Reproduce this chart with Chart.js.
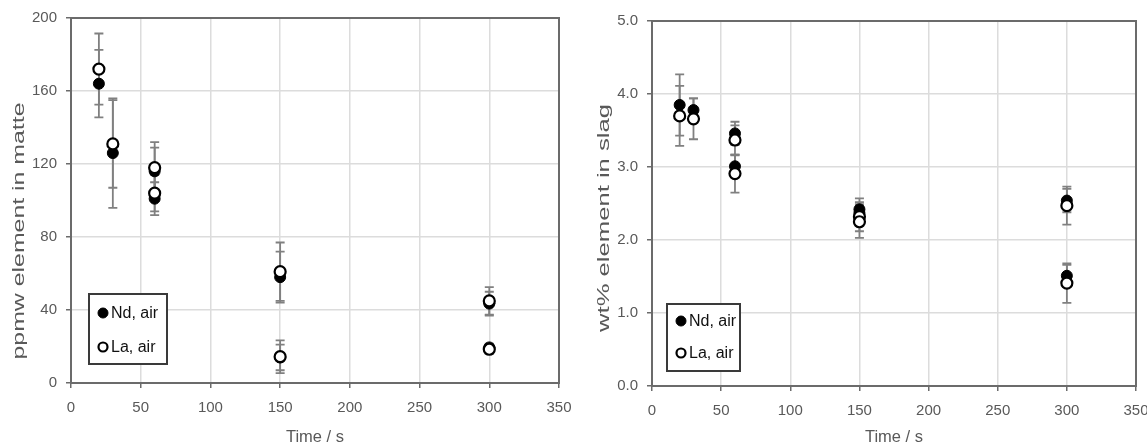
<!DOCTYPE html>
<html><head><meta charset="utf-8">
<script src="https://cdn.jsdelivr.net/npm/chart.js@4.4.1/dist/chart.umd.min.js"></script>
<style>
html,body{margin:0;padding:0;background:#fff;overflow:hidden;}
#wrap{position:relative;width:1147px;height:447px;overflow:hidden;}
canvas{position:absolute;top:0;}
#a{left:0;}
#b{left:573px;}
</style></head><body>
<div id="wrap"><canvas id="a" width="600" height="447"></canvas><canvas id="b" width="600" height="447"></canvas></div>
<script>
// ---- data ----
const seriesNames = ['Nd, air', 'La, air'];

const matteTime  = [20, 30, 60, 60, 150, 150, 300, 300];
const matteNd    = [164, 126, 116, 101, 58, 14, 43.5, 19.5];
const matteNdErr = [18.5, 30, 13, 9, 14, 7, 6.5, 2];
const matteLa    = [172, 131, 118, 104, 61, 14.4, 45, 18.5];
const matteLaErr = [19.5, 24, 14, 10, 16, 9, 7.5, 2.5];

const slagTime   = [20, 30, 60, 60, 150, 150, 300, 300];
const slagNd     = [3.85, 3.78, 3.46, 3.01, 2.42, 2.37, 2.54, 1.51];
const slagNdErr  = [0.42, 0.16, 0.16, 0.15, 0.15, 0.12, 0.16, 0.15];
const slagLa     = [3.70, 3.66, 3.37, 2.91, 2.32, 2.25, 2.47, 1.41];
const slagLaErr  = [0.41, 0.28, 0.20, 0.26, 0.20, 0.22, 0.26, 0.27];

const xTitle = 'Time / s';
const matteTitle = 'ppmw element in matte';
const slagTitle = 'wt% element in slag';

// ---- styling ----
const FONT = '"Liberation Sans", Arial, sans-serif';
const GREY = '#595959';
const AXIS = '#6b6b6b';

const errorBars = {
  id: 'errorBars',
  beforeDatasetsDraw(chart) {
    const ctx = chart.ctx, xs = chart.scales.x, ys = chart.scales.y;
    ctx.save();
    ctx.strokeStyle = '#808080';
    ctx.lineWidth = 1.8;
    chart.data.datasets.forEach(ds => {
      ds.data.forEach((p, i) => {
        const e = ds.err[i];
        const x = xs.getPixelForValue(p.x);
        const y1 = ys.getPixelForValue(p.y + e);
        const y2 = ys.getPixelForValue(p.y - e);
        ctx.beginPath();
        ctx.moveTo(x, y1); ctx.lineTo(x, y2);
        ctx.moveTo(x - 4.5, y1); ctx.lineTo(x + 4.5, y1);
        ctx.moveTo(x - 4.5, y2); ctx.lineTo(x + 4.5, y2);
        ctx.stroke();
      });
    });
    ctx.restore();
  }
};

const frame = {
  id: 'frame',
  afterDraw(chart, args, opts) {
    const ctx = chart.ctx, a = chart.chartArea;
    ctx.save();
    ctx.strokeStyle = AXIS;
    ctx.lineWidth = 2;
    ctx.strokeRect(a.left, a.top, a.right - a.left, a.bottom - a.top);
    // y axis title (stretched along its length like the reference)
    const t = chart.options.scales.y.title.text;
    ctx.font = '16px ' + FONT;
    const w = ctx.measureText(t).width;
    ctx.translate(opts.tx, opts.ty);
    ctx.rotate(-Math.PI / 2);
    ctx.scale(opts.tlen / w, 1);
    ctx.fillStyle = GREY;
    ctx.textAlign = 'center';
    ctx.textBaseline = 'middle';
    ctx.fillText(t, 0, 0);
    ctx.restore();
    // legend box
    const L = opts.legend;
    ctx.save();
    ctx.fillStyle = '#fff';
    ctx.fillRect(L.x, L.y, L.w, L.h);
    ctx.strokeStyle = '#3a3a3a';
    ctx.lineWidth = 2;
    ctx.strokeRect(L.x, L.y, L.w, L.h);
    ctx.font = '16px ' + FONT;
    ctx.textBaseline = 'middle';
    ctx.textAlign = 'left';
    chart.data.datasets.slice().reverse().forEach((ds, k) => {
      const cy = L.y + L.rows[k];
      ctx.beginPath();
      ctx.arc(L.x + 14, cy, ds.pointRadius - (ds.pointBackgroundColor === '#fff' ? 1 : 0.5), 0, Math.PI * 2);
      ctx.fillStyle = ds.pointBackgroundColor;
      ctx.fill();
      ctx.lineWidth = ds.pointBorderWidth;
      ctx.strokeStyle = '#000';
      ctx.stroke();
      ctx.fillStyle = '#111';
      ctx.fillText(ds.label, L.x + 22, cy + 1);
    });
    ctx.restore();
  }
};

function makeChart(id, times, nd, ndErr, la, laErr, yMax, yStep, yTitle, yFmt, geo) {
  const pts = arr => times.map((t, i) => ({x: t, y: arr[i]}));
  return new Chart(document.getElementById(id), {
    type: 'scatter',
    data: {
      datasets: [
        {label: seriesNames[1], data: pts(la), err: laErr, order: 1,
         pointRadius: 5.5, pointBackgroundColor: '#fff', pointBorderColor: '#000', pointBorderWidth: 2.2, showLine: false},
        {label: seriesNames[0], data: pts(nd), err: ndErr, order: 2,
         pointRadius: 5.5, pointBackgroundColor: '#000', pointBorderColor: '#000', pointBorderWidth: 1, showLine: false}
      ]
    },
    options: {
      responsive: false,
      animation: false,
      events: [],
      layout: {padding: {left: 0, top: geo.top, right: geo.right, bottom: 0}},
      plugins: {
        legend: {display: false},
        tooltip: {enabled: false},
        frame: {tx: geo.tx, ty: geo.ty, tlen: geo.tlen, legend: geo.legend}
      },
      scales: {
        x: {
          type: 'linear', min: 0, max: 350,
          ticks: {stepSize: 50, color: GREY, font: {family: FONT, size: 15}, padding: 11},
          grid: {color: '#dcdcdc', lineWidth: 1.5, tickLength: 5, tickColor: AXIS, tickWidth: 1.5},
          border: {display: true, color: AXIS, width: 2},
          title: {display: true, text: xTitle, color: GREY, font: {family: FONT, size: 16.5}, padding: {top: 0, bottom: 0}},
          afterFit: s => { s.height = geo.xh; }
        },
        y: {
          min: 0, max: yMax,
          ticks: {stepSize: yStep, color: GREY, font: {family: FONT, size: 15}, padding: 9, callback: yFmt},
          grid: {color: '#dcdcdc', lineWidth: 1.5, tickLength: 5, tickColor: AXIS, tickWidth: 1.5},
          border: {display: true, color: AXIS, width: 2},
          title: {display: false, text: yTitle},
          afterFit: s => { s.width = geo.yw; }
        }
      }
    },
    plugins: [errorBars, frame]
  });
}

makeChart('a', matteTime, matteNd, matteNdErr, matteLa, matteLaErr, 200, 40, matteTitle,
  v => String(v),
  {top: 17, right: 41, xh: 64, yw: 71, tx: 20, ty: 231, tlen: 257,
   legend: {x: 89, y: 294, w: 78, h: 70, rows: [19, 53]}});

makeChart('b', slagTime, slagNd, slagNdErr, slagLa, slagLaErr, 5, 1, slagTitle,
  v => Number(v).toFixed(1),
  {top: 21, right: 37, xh: 61, yw: 79, tx: 32, ty: 218, tlen: 228,
   legend: {x: 94, y: 304, w: 73, h: 67, rows: [17, 49]}});
</script>
</body></html>
